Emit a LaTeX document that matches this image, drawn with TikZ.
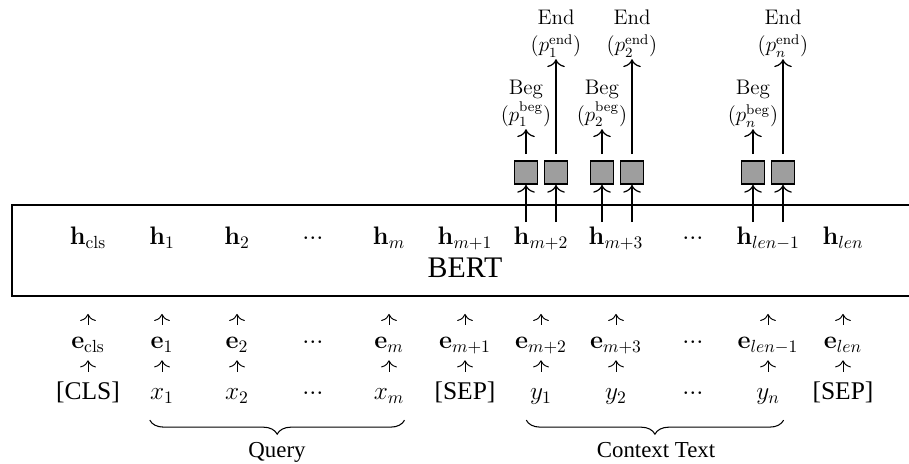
\documentclass[tikz,border=0pt]{standalone}
\usepackage[no-math]{fontspec}
\setmainfont{Liberation Serif}
\usetikzlibrary{positioning,decorations.pathreplacing,arrows.meta}
\newcommand{\hdots}{${\cdot}{\cdot}{\cdot}$}
\begin{document}
\begin{tikzpicture}[
	tok/.style={anchor=base,inner sep=0,text height=10pt,text depth=3pt,font=\fontsize{14.5}{17}\selectfont},
	upa/.style={-{Computer Modern Rightarrow[length=4pt,width=9pt]},line width=.55pt,shorten <=0.13cm,shorten >=0.34cm},
	upb/.style={-{Computer Modern Rightarrow[length=4pt,width=9pt]},line width=.55pt,shorten <=0.21cm,shorten >=0.115cm},
	arr/.style={-{Computer Modern Rightarrow[length=4.5pt,width=10pt]},line width=.7pt},
	outbox/.style={draw,fill=black!38,minimum size=0.46cm,inner sep=0,line width=.9pt},
	lbl/.style={align=center,inner sep=1pt,font=\fontsize{11.5}{15.5}\selectfont},
	brc/.style={decorate,decoration={brace,mirror,amplitude=8pt},line width=.6pt},
	seglbl/.style={anchor=base,font=\fontsize{13}{15}\selectfont}]
		\useasboundingbox (0,0) rectangle (18.18,9.28);
		\clip (0,0) rectangle (18.18,9.28);
		% encoder
		\node [draw,line width=1.1pt,inner sep=0,minimum width=18.12cm,minimum height=1.82cm] (bert) at (9.30,4.27) {};
		\node [anchor=base,font=\fontsize{17}{20}\selectfont] (bertlbl) at (9.30,3.72) {BERT};
		% hidden states
		\node [tok] (h0) at (1.76,4.38) {$\mathbf{h}_{\rm cls}$};
		\node [tok] (h1) at (3.24,4.38) {$\mathbf{h}_1$};
		\node [tok] (h2) at (4.74,4.38) {$\mathbf{h}_2$};
		\node [tok] (h3) at (6.26,4.38) {\hdots};
		\node [tok] (h4) at (7.78,4.38) {$\mathbf{h}_m$};
		\node [tok] (h5) at (9.30,4.38) {$\mathbf{h}_{m+1}$};
		\node [tok] (h6) at (10.82,4.38) {$\mathbf{h}_{m+2}$};
		\node [tok] (h7) at (12.32,4.38) {$\mathbf{h}_{m+3}$};
		\node [tok] (h8) at (13.86,4.38) {\hdots};
		\node [tok] (h9) at (15.36,4.38) {$\mathbf{h}_{len-1}$};
		\node [tok] (h10) at (16.86,4.38) {$\mathbf{h}_{len}$};
		% embeddings
		\node [tok] (e0) at (1.76,2.30) {$\mathbf{e}_{\rm cls}$};
		\node [tok] (e1) at (3.24,2.30) {$\mathbf{e}_1$};
		\node [tok] (e2) at (4.74,2.30) {$\mathbf{e}_2$};
		\node [tok] (e3) at (6.26,2.30) {\hdots};
		\node [tok] (e4) at (7.78,2.30) {$\mathbf{e}_m$};
		\node [tok] (e5) at (9.30,2.30) {$\mathbf{e}_{m+1}$};
		\node [tok] (e6) at (10.82,2.30) {$\mathbf{e}_{m+2}$};
		\node [tok] (e7) at (12.32,2.30) {$\mathbf{e}_{m+3}$};
		\node [tok] (e8) at (13.86,2.30) {\hdots};
		\node [tok] (e9) at (15.36,2.30) {$\mathbf{e}_{len-1}$};
		\node [tok] (e10) at (16.86,2.30) {$\mathbf{e}_{len}$};
		% input tokens
		\node [tok] (t0) at (1.76,1.28) {[CLS]};
		\node [tok] (t1) at (3.24,1.28) {$x_1$};
		\node [tok] (t2) at (4.74,1.28) {$x_2$};
		\node [tok] (t3) at (6.26,1.28) {\hdots};
		\node [tok] (t4) at (7.78,1.28) {$x_m$};
		\node [tok] (t5) at (9.30,1.28) {[SEP]};
		\node [tok] (t6) at (10.82,1.28) {$y_1$};
		\node [tok] (t7) at (12.32,1.28) {$y_2$};
		\node [tok] (t8) at (13.86,1.28) {\hdots};
		\node [tok] (t9) at (15.36,1.28) {$y_n$};
		\node [tok] (t10) at (16.86,1.28) {[SEP]};
		% small arrows
		\draw [upb] (t0) -- (e0);
		\draw [upb] (t1) -- (e1);
		\draw [upb] (t2) -- (e2);
		\draw [upb] (t4) -- (e4);
		\draw [upb] (t5) -- (e5);
		\draw [upb] (t6) -- (e6);
		\draw [upb] (t7) -- (e7);
		\draw [upb] (t9) -- (e9);
		\draw [upb] (t10) -- (e10);
		\draw [upa] (e0) -- (e0 |- bert.south);
		\draw [upa] (e1) -- (e1 |- bert.south);
		\draw [upa] (e2) -- (e2 |- bert.south);
		\draw [upa] (e4) -- (e4 |- bert.south);
		\draw [upa] (e5) -- (e5 |- bert.south);
		\draw [upa] (e6) -- (e6 |- bert.south);
		\draw [upa] (e7) -- (e7 |- bert.south);
		\draw [upa] (e9) -- (e9 |- bert.south);
		\draw [upa] (e10) -- (e10 |- bert.south);
		% start / end classifiers
		\node [outbox] (b1) at (10.52,5.83) {};
		\node [outbox] (b2) at (11.12,5.83) {};
		\node [outbox] (b3) at (12.04,5.83) {};
		\node [outbox] (b4) at (12.64,5.83) {};
		\node [outbox] (b5) at (15.06,5.83) {};
		\node [outbox] (b6) at (15.66,5.83) {};
		\draw [arr,shorten <=0.1cm] (b1 |- h6.north) -- (b1);
		\draw [arr,shorten <=0.1cm] (b2 |- h6.north) -- (b2);
		\draw [arr,shorten <=0.1cm] (b3 |- h7.north) -- (b3);
		\draw [arr,shorten <=0.1cm] (b4 |- h7.north) -- (b4);
		\draw [arr,shorten <=0.1cm] (b5 |- h9.north) -- (b5);
		\draw [arr,shorten <=0.1cm] (b6 |- h9.north) -- (b6);
		\node [lbl,above=0.62cm of b1] (beg1) {$\mathrm{Beg}$\\$(p_1^{\rm beg})$};
		\node [lbl,above=2.02cm of b2] (end1) {$\mathrm{End}$\\$(p_1^{\rm end})$};
		\node [lbl,above=0.62cm of b3] (beg2) {$\mathrm{Beg}$\\$(p_2^{\rm beg})$};
		\node [lbl,above=2.02cm of b4] (end2) {$\mathrm{End}$\\$(p_2^{\rm end})$};
		\node [lbl,above=0.62cm of b5] (begn) {$\mathrm{Beg}$\\$(p_n^{\rm beg})$};
		\node [lbl,above=2.02cm of b6] (endn) {$\mathrm{End}$\\$(p_n^{\rm end})$};
		\draw [arr,shorten <=0.12cm] (b1) -- (beg1);
		\draw [arr,shorten <=0.12cm] (b2) -- (end1);
		\draw [arr,shorten <=0.12cm] (b3) -- (beg2);
		\draw [arr,shorten <=0.12cm] (b4) -- (end2);
		\draw [arr,shorten <=0.12cm] (b5) -- (begn);
		\draw [arr,shorten <=0.12cm] (b6) -- (endn);
		% segments
		\draw [brc] ([yshift=-0.29cm]t1.south west) -- ([yshift=-0.29cm]t4.south east);
		\draw [brc] ([xshift=-2pt,yshift=-0.29cm]t6.south west) -- ([xshift=2pt,yshift=-0.29cm]t9.south east);
		\node [seglbl] (qry) at (5.54,0.12) {Query};
		\node [seglbl] (ctx) at (13.12,0.12) {Context Text};
\end{tikzpicture}
\end{document}
